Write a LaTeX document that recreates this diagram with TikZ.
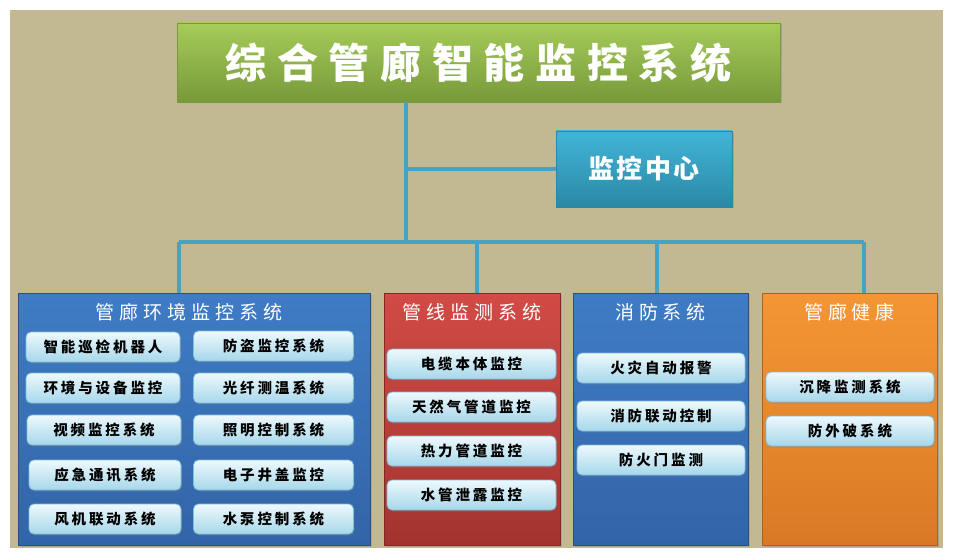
\documentclass[tikz,border=0pt]{standalone}
\usepackage{fontspec}
\newfontfamily\cjk[LetterSpace=20]{Noto Sans CJK SC}
\newfontfamily\cjkwide[LetterSpace=26]{Noto Sans CJK SC}
\newfontfamily\cjknarrow[LetterSpace=8]{Noto Sans CJK SC}
\usepackage{tikz}
\usetikzlibrary{positioning,shadows}
\usepackage{xcolor}

\definecolor{bgtan}{HTML}{C2B993}
\definecolor{linkc}{HTML}{48A3C2}
\definecolor{greentop}{HTML}{A6CC59}
\definecolor{greenbot}{HTML}{77993A}
\definecolor{tealtop}{HTML}{41B5D7}
\definecolor{tealbot}{HTML}{2C88A5}
\definecolor{bluetop}{HTML}{3F7CC5}
\definecolor{bluebot}{HTML}{3264A8}
\definecolor{redtop}{HTML}{D24B46}
\definecolor{redbot}{HTML}{A3332F}
\definecolor{orangetop}{HTML}{F49634}
\definecolor{orangebot}{HTML}{DA7925}
\definecolor{itemtop}{HTML}{EEF9FD}
\definecolor{itembot}{HTML}{A6D7EA}
\definecolor{itemedge}{HTML}{7FBFD8}

\tikzset{
  link/.style={draw=linkc, line width=4pt},
  headbox/.style={rectangle, inner sep=0pt, text=white, line width=0.6pt,
    drop shadow={opacity=0.35, shadow xshift=1.5pt, shadow yshift=-1.5pt}},
  panel/.style={rectangle, inner sep=0pt, line width=0.6pt,
    minimum height=252pt,
    drop shadow={opacity=0.3, shadow xshift=2pt, shadow yshift=-2pt}},
  ptitle/.style={text=white, font=\cjkwide\fontsize{19pt}{22pt}\selectfont},
  item/.style={rectangle, rounded corners=5pt, draw=itemedge, line width=0.8pt,
    top color=itemtop, bottom color=itembot, minimum height=30pt, inner sep=0pt,
    text=black, font=\cjk\fontsize{14.5pt}{17pt}\selectfont\bfseries,
    drop shadow={opacity=0.3, shadow xshift=1pt, shadow yshift=-1.5pt}}
}

\begin{document}
\begin{tikzpicture}[x=1pt,y=-1pt]
\useasboundingbox (0,0) rectangle (953,556);
\fill[white] (0,0) rectangle (953,556);
\fill[bgtan] (10,10) rectangle (943,548);

% top level
\node[headbox, draw=greenbot, top color=greentop, bottom color=greenbot,
  minimum width=603pt, minimum height=79pt,
  font=\cjkwide\fontsize{41pt}{45pt}\selectfont\bfseries] (title) at (478.5,62.5) {综合管廊智能监控系统};
\node[headbox, draw=tealbot, top color=tealtop, bottom color=tealbot,
  minimum width=176pt, minimum height=76pt,
  font=\cjknarrow\fontsize{26pt}{30pt}\selectfont\bfseries] (center) at (644,169) {监控中心};

% four branches
\node[panel, draw=bluebot!80!black, top color=bluetop, bottom color=bluebot, minimum width=352pt] (env) at (194,419) {};
\node[panel, draw=redbot!80!black, top color=redtop, bottom color=redbot, minimum width=176pt] (pipe) at (472,419) {};
\node[panel, draw=bluebot!80!black, top color=bluetop, bottom color=bluebot, minimum width=175pt] (fire) at (660.5,419) {};
\node[panel, draw=orangebot!80!black, top color=orangetop, bottom color=orangebot, minimum width=175pt] (health) at (849.5,419) {};

\node[ptitle] (envt) at ([xshift=-5pt,yshift=-20pt]env.north) {管廊环境监控系统};
\node[ptitle] (pipet) at ([yshift=-20pt]pipe.north) {管线监测系统};
\node[ptitle] (firet) at ([yshift=-20pt]fire.north) {消防系统};
\node[ptitle] (healtht) at ([yshift=-20pt]health.north) {管廊健康};

% environment items
\node[item, minimum width=154pt] (e1) at (103,347) {智能巡检机器人};
\node[item, minimum width=154pt] (e2) at (103,388) {环境与设备监控};
\node[item, minimum width=154pt] (e3) at (104,430) {视频监控系统};
\node[item, minimum width=152pt] (e4) at (105,475) {应急通讯系统};
\node[item, minimum width=152pt] (e5) at (105,519) {风机联动系统};
\node[item, minimum width=160pt] (e6) at (273.5,346) {防盗监控系统};
\node[item, minimum width=160pt] (e7) at (273.5,388) {光纤测温系统};
\node[item, minimum width=160pt] (e8) at (273.5,430) {照明控制系统};
\node[item, minimum width=160pt] (e9) at (273.5,475) {电子井盖监控};
\node[item, minimum width=160pt] (e10) at (273.5,519) {水泵控制系统};

% pipeline items
\node[item, minimum width=169pt] (p1) at (471.5,364) {电缆本体监控};
\node[item, minimum width=169pt] (p2) at (471.5,407) {天然气管道监控};
\node[item, minimum width=169pt] (p3) at (471.5,451) {热力管道监控};
\node[item, minimum width=169pt] (p4) at (471.5,495) {水管泄露监控};

% fire items
\node[item, minimum width=168pt] (f1) at (661,368) {火灾自动报警};
\node[item, minimum width=168pt] (f2) at (661,416) {消防联动控制};
\node[item, minimum width=168pt] (f3) at (661,460) {防火门监测};

% health items
\node[item, minimum width=168pt] (h1) at (850,387) {沉降监测系统};
\node[item, minimum width=168pt] (h2) at (850,431) {防外破系统};

% connectors
\coordinate (hub) at (406,242);
\coordinate (bus1) at (179,242);
\coordinate (bus2) at (477,242);
\coordinate (bus3) at (657,242);
\coordinate (bus4) at (864,242);
\draw[link] (title.south -| hub) -- (hub);
\draw[link] (center.west) -- (center.west -| hub);
\draw[link] (bus1) -- (bus4);
\draw[link] (bus1) -- (bus1 |- env.north);
\draw[link] (bus2) -- (bus2 |- pipe.north);
\draw[link] (bus3) -- (bus3 |- fire.north);
\draw[link] (bus4) -- (bus4 |- health.north);
\end{tikzpicture}
\end{document}
